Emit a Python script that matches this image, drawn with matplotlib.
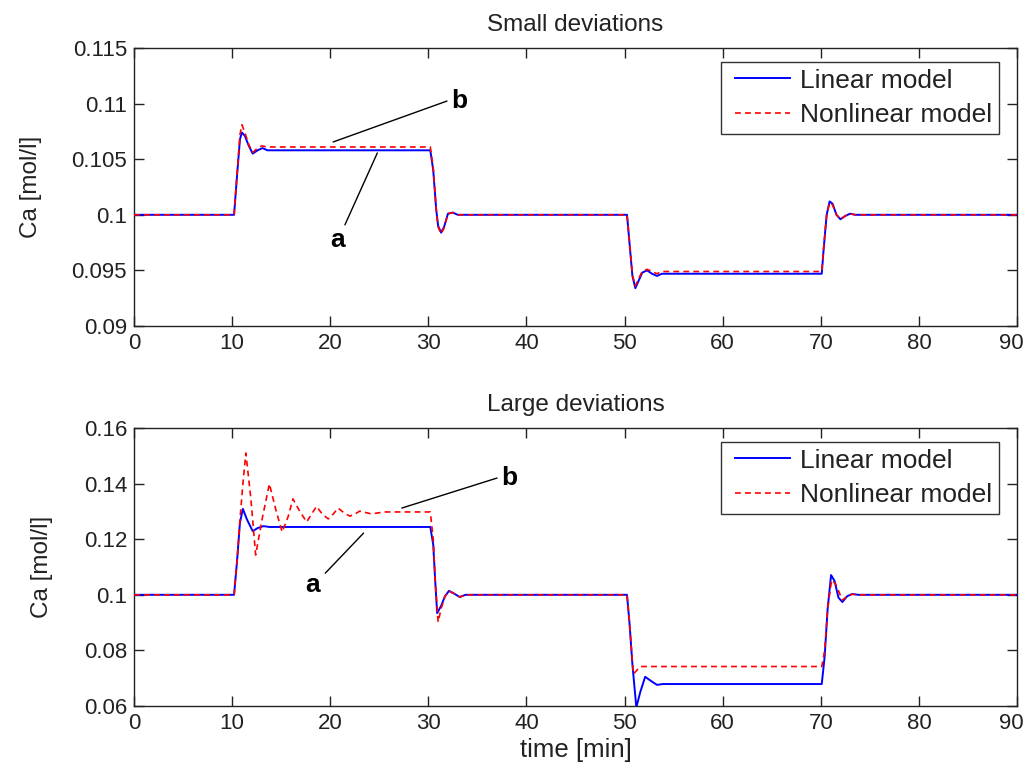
import matplotlib
matplotlib.use("Agg")
import matplotlib.pyplot as plt
import matplotlib.transforms as mtrans
from matplotlib.lines import Line2D
from matplotlib.legend_handler import HandlerLine2D

plt.rcParams['font.family'] = ['Liberation Sans', 'DejaVu Sans']

# ---------------- data ----------------
# Small deviations
t_small_lin = [0, 10.2, 10.5, 10.8, 11.0, 11.3, 11.7, 12.1, 12.6, 13.1, 13.6,
               30.2, 30.5, 30.8, 31.0, 31.3, 31.6, 32.0, 32.5, 33.0,
               50.25, 50.5, 50.8, 51.1, 51.4, 51.8, 52.3, 52.8, 53.3, 53.8,
               70.1, 70.3, 70.6, 70.9, 71.2, 71.6, 72.0, 72.5, 73.0, 73.5, 90]
ca_small_lin = [0.1, 0.1, 0.1035, 0.1068, 0.1074, 0.1071, 0.1062, 0.1055, 0.1058, 0.1060, 0.1058,
                0.1058, 0.1040, 0.1005, 0.0990, 0.0984, 0.0989, 0.1001, 0.1002, 0.1000,
                0.1000, 0.0975, 0.0945, 0.0934, 0.0940, 0.0948, 0.0950, 0.0947, 0.0945, 0.0947,
                0.0947, 0.0970, 0.1000, 0.1012, 0.1010, 0.1000, 0.0996, 0.0999, 0.1001, 0.1000, 0.1]

t_small_nl = [0, 10.2, 10.5, 10.8, 11.0, 11.3, 11.7, 12.1, 12.6, 13.0, 13.6,
              30.2, 30.5, 30.8, 31.0, 31.3, 31.6, 32.0, 32.5, 33.0,
              50.25, 50.5, 50.8, 51.1, 51.4, 51.8, 52.3, 52.8, 53.3, 53.8,
              70.1, 70.3, 70.6, 70.9, 71.2, 71.6, 72.0, 72.5, 73.0, 73.5, 90]
ca_small_nl = [0.1, 0.1, 0.1036, 0.1072, 0.1081, 0.1074, 0.1063, 0.1056, 0.1060, 0.1062, 0.1061,
               0.1061, 0.1042, 0.1005, 0.0989, 0.0983, 0.0988, 0.1001, 0.1002, 0.1000,
               0.1000, 0.0976, 0.0946, 0.0936, 0.0942, 0.0949, 0.0951, 0.0949, 0.0947, 0.0949,
               0.0949, 0.0971, 0.1000, 0.1011, 0.1009, 0.1000, 0.0996, 0.0999, 0.1001, 0.1000, 0.1]

# Large deviations
t_large_lin = [0, 10.2, 10.5, 10.8, 11.1, 11.5, 12.1, 12.6, 13.2, 13.8,
               30.2, 30.5, 30.7, 30.9, 31.3, 31.7, 32.1, 32.6, 33.2, 33.8,
               50.25, 50.5, 50.8, 51.2, 51.6, 52.1, 52.7, 53.3, 53.9,
               70.1, 70.4, 70.7, 71.05, 71.4, 71.8, 72.2, 72.7, 73.2, 73.8, 90]
ca_large_lin = [0.1, 0.1, 0.112, 0.126, 0.1309, 0.1272, 0.1229, 0.1240, 0.1247, 0.1244,
                0.1244, 0.1180, 0.1050, 0.0934, 0.0960, 0.0995, 0.1014, 0.1005, 0.0992, 0.1000,
                0.1000, 0.0900, 0.0750, 0.0595, 0.0650, 0.0705, 0.0690, 0.0676, 0.0679,
                0.0679, 0.0780, 0.0950, 0.1071, 0.1050, 0.0990, 0.0974, 0.0995, 0.1003, 0.1000, 0.1]

t_large_nl = [0, 10.2, 10.5, 10.8, 11.1, 11.4, 11.9, 12.4, 13.1, 13.8, 14.5, 15.1, 15.7, 16.2,
              16.9, 17.6, 18.1, 18.6, 19.2, 19.8, 20.3, 20.8, 21.4, 22.0, 22.5, 23.0, 24.2, 25.5,
              30.2, 30.5, 30.7, 31.0, 31.3, 31.7, 32.1, 32.6, 33.2, 33.8,
              50.25, 50.5, 50.9, 51.6,
              70.1, 70.4, 70.7, 71.1, 71.5, 72.2, 72.7, 73.2, 73.8, 90]
ca_large_nl = [0.1, 0.1, 0.112, 0.127, 0.140, 0.151, 0.135, 0.1143, 0.128, 0.1399, 0.130, 0.1226, 0.128, 0.1345,
               0.130, 0.1262, 0.129, 0.1318, 0.129, 0.1273, 0.129, 0.1312, 0.1295, 0.1283, 0.129, 0.1301, 0.1291, 0.1298,
               0.1298, 0.1200, 0.1050, 0.0902, 0.0950, 0.0995, 0.1014, 0.1005, 0.0992, 0.1000,
               0.1000, 0.0900, 0.0715, 0.0742,
               0.0742, 0.0800, 0.0950, 0.1053, 0.1040, 0.0981, 0.0995, 0.1002, 0.1000, 0.1]

titles = ["Small deviations", "Large deviations"]
ylims = [(0.09, 0.115), (0.06, 0.16)]
yticks_small = [0.09, 0.095, 0.1, 0.105, 0.11, 0.115]
ytick_labels_small = ["0.09", "0.095", "0.1", "0.105", "0.11", "0.115"]
yticks_large = [0.06, 0.08, 0.1, 0.12, 0.14, 0.16]
ytick_labels_large = ["0.06", "0.08", "0.1", "0.12", "0.14", "0.16"]
xticks = [0, 10, 20, 30, 40, 50, 60, 70, 80, 90]

# annotation positions: (line start, line end, text) in data coords
ann_small = {"b": ((20.3, 0.10655), (31.9, 0.11023), (33.2, 0.1102)),
             "a": ((24.8, 0.10556), (21.5, 0.0991), (20.7, 0.0977))}
ann_large = {"b": ((27.3, 0.1312), (37.0, 0.1420), (38.3, 0.1420)),
             "a": ((23.4, 0.1222), (19.5, 0.1078), (18.2, 0.1035))}

# ---------------- figure ----------------
fig = plt.figure(figsize=(10.26, 7.75), dpi=100)
ax1 = fig.add_axes([134/1026, 1-326/775, 883/1026, 278/775])
ax2 = fig.add_axes([134/1026, 1-706/775, 883/1026, 278/775])

panels = [
    (ax1, t_small_lin, ca_small_lin, t_small_nl, ca_small_nl, yticks_small, ytick_labels_small, ann_small, -0.104),
    (ax2, t_large_lin, ca_large_lin, t_large_nl, ca_large_nl, yticks_large, ytick_labels_large, ann_large, -0.092),
]

for i, (ax, tl, cl, tn, cn, yt, ytl, ann, ylab_x) in enumerate(panels):
    ax.plot(tl, cl, color='#0000ff', lw=1.4, label='Linear model', zorder=3)
    ax.plot(tn, cn, color='#ff0000', lw=1.2, linestyle=(0, (3.5, 2.5)), label='Nonlinear model', zorder=4)
    ax.set_xlim(0, 90)
    ax.set_ylim(*ylims[i])
    ax.set_xticks(xticks)
    ax.set_xticklabels([str(x) for x in xticks])
    ax.set_yticks(yt)
    ax.set_yticklabels(ytl)
    ax.tick_params(direction='in', length=7, width=1, top=True, right=True,
                   labelsize=16, pad=5, colors='#222222')
    # keep the last x label ("90") inside the figure
    lbl = ax.get_xticklabels()[-1]
    lbl.set_transform(lbl.get_transform() + mtrans.ScaledTranslation(-6/100, 0, fig.dpi_scale_trans))
    for s in ax.spines.values():
        s.set_linewidth(1.0)
        s.set_color('#222222')
    ax.set_title(titles[i], fontsize=17.5, pad=12, color='#222222')
    ax.set_ylabel('Ca [mol/l]', fontsize=17.5, color='#222222')
    ax.yaxis.set_label_coords(ylab_x, 0.5)
    for lab, (p0, p1, pt) in ann.items():
        ax.annotate('', xy=p1, xytext=p0,
                    arrowprops=dict(arrowstyle='-', color='black', lw=1.0, shrinkA=0, shrinkB=0))
        ax.text(pt[0], pt[1], lab, fontsize=19, fontweight='bold', ha='center', va='center')
    leg = ax.legend(loc='upper right', bbox_to_anchor=(0.9796, 0.9496), borderaxespad=0,
                    fontsize=19, frameon=True, fancybox=False, handlelength=2.34,
                    handletextpad=0.4, borderpad=0.25, labelspacing=0.4,
                    handler_map={Line2D: HandlerLine2D(xpad=0.28)})
    leg.get_frame().set_edgecolor('black')
    leg.get_frame().set_linewidth(1.0)
    for txt in leg.get_texts():
        txt.set_color('#222222')

ax2.set_xlabel('time [min]', fontsize=18.5, labelpad=3, color='#222222')

fig.savefig('out.png', dpi=100)
